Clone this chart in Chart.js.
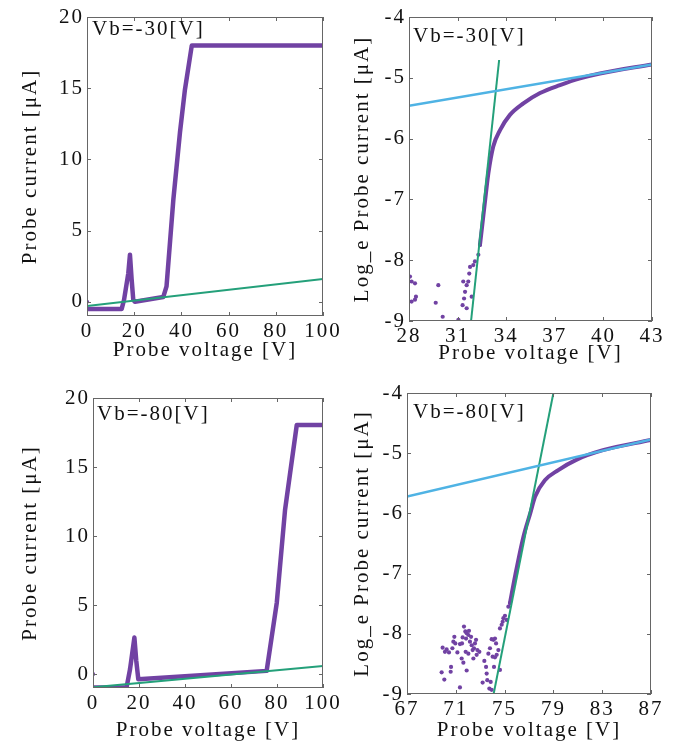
<!DOCTYPE html>
<html>
<head>
<meta charset="utf-8">
<script src="https://cdn.jsdelivr.net/npm/chart.js@4.4.1/dist/chart.umd.min.js"></script>
<style>
  body { margin: 0; background: #fff; }
  canvas { position: absolute; left: 0; top: 0; }
</style>
</head>
<body>
<canvas id="p1" width="675" height="742"></canvas>
<canvas id="p2" width="675" height="742"></canvas>
<canvas id="p3" width="675" height="742"></canvas>
<canvas id="p4" width="675" height="742"></canvas>
<script>
/* global Chart */

// ---- data ----

// Vb = -30 V, probe current [uA]
const iv30V = [0, 14.7, 15.7, 17.5, 18.2, 18.9, 19.6, 20.3, 32.3, 33.7, 36.6, 39.4, 41.5, 44.4, 100];
const iv30I = [-0.5, -0.5, 0.14, 2.0, 3.3, 1.6, 0.14, 0.0, 0.33, 1.08, 7.2, 11.9, 14.9, 18.0, 18.0];
const fit30V = [0, 100];
const fit30I = [-0.3, 1.6];

// Vb = -80 V, probe current [uA]
const iv80V = [0, 14.6, 16.1, 18.0, 18.8, 19.7, 75.5, 79.9, 83.5, 85.7, 88.6, 100];
const iv80I = [-0.96, -0.96, 0.36, 2.65, 1.0, -0.36, 0.24, 5.17, 11.9, 14.56, 18.05, 18.05];
const fit80V = [0, 100];
const fit80I = [-0.95, 0.6];

// stray point at 0 V
const strayV = [0];
const strayI = [0];

// Vb = -30 V, log_e current
const log30DotV = [28.06, 28.16, 28.37, 28.43, 28.37, 27.98, 28.16, 29.81, 29.65, 30.08, 31.05, 31.35, 31.46,
  31.56, 31.66, 31.72, 31.77, 31.97, 32.07, 32.28, 32.38, 31.31, 31.40, 31.56, 31.87];
const log30DotI = [-8.27, -8.35, -8.38, -8.60, -8.65, -8.68, -8.68, -8.41, -8.70, -8.93, -8.98, -8.35, -8.52,
  -8.41, -8.35, -8.22, -8.11, -8.08, -8.02, -7.91, -7.75, -8.74, -8.63, -8.79, -8.60];
const log30V = [32.38, 32.49, 32.75, 32.9, 33.2, 33.62, 34.23, 35.06, 36.09, 37.32, 38.56, 39.79, 43];
const log30I = [-7.75, -7.5, -6.9, -6.57, -6.13, -5.86, -5.61, -5.42, -5.25, -5.12, -5.01, -4.93, -4.78];
const steep30V = [31.83, 33.85];
const steep30I = [-9, -4];
const flat30V = [28, 43];
const flat30I = [-5.46, -4.78];

// Vb = -80 V, log_e current
const log80DotV = [69.84, 70.06, 69.92, 70.11, 70.25, 70.44, 70.61, 70.58, 70.72, 70.80, 70.88, 70.96, 71.13,
  71.34, 71.51, 71.56, 71.67, 71.78, 71.84, 71.89, 72.03, 72.08, 72.16, 72.30, 72.25, 72.38, 72.49, 72.57,
  72.66, 72.77, 72.71, 72.93, 72.44, 71.48, 71.62, 71.89, 71.34, 72.03, 71.81, 73.20, 73.34, 73.48, 73.53,
  73.58, 73.67, 73.80, 73.94, 74.08, 74.21, 74.30, 74.02, 74.21, 74.35, 73.86, 73.75, 73.94, 74.62, 74.76,
  74.84, 74.90, 75.03, 75.17, 75.31, 75.44, 74.49, 74.62, 74.13];
const log80DotI = [-8.64, -8.76, -8.23, -8.30, -8.26, -8.31, -8.55, -8.63, -8.24, -8.13, -8.05, -8.16, -8.31,
  -8.17, -8.16, -8.06, -7.88, -7.96, -8.08, -7.99, -8.02, -7.95, -8.13, -8.19, -8.05, -8.27, -8.24, -8.16,
  -8.10, -8.27, -8.35, -8.30, -8.41, -8.41, -8.48, -8.61, -8.89, -8.33, -8.30, -8.81, -8.45, -8.55, -8.66,
  -8.77, -8.33, -8.24, -8.09, -8.10, -8.08, -8.16, -8.38, -8.39, -8.35, -8.80, -8.91, -8.93, -7.91, -7.85,
  -7.80, -7.74, -7.70, -7.77, -7.55, -7.49, -8.27, -8.60, -8.55];
const log80V = [75.44, 75.85, 76.54, 77.1, 77.5, 78.3, 79.4, 80.87, 83.06, 87];
const log80I = [-7.49, -7.05, -6.39, -6.0, -5.72, -5.45, -5.28, -5.11, -4.95, -4.78];
const steep80V = [74.1, 79.0];
const steep80I = [-9, -4];
const flat80V = [67, 87];
const flat80I = [-5.72, -4.77];

// tick labels
const ivTicksX = [0, 20, 40, 60, 80, 100];
const ivTicksY = [0, 5, 10, 15, 20];
const log30TicksX = [28, 31, 34, 37, 40, 43];
const log80TicksX = [67, 71, 75, 79, 83, 87];
const logTicksY = [-9, -8, -7, -6, -5, -4];

// ---- drawing ----

const FONT = '"Liberation Serif", "Times New Roman", serif';
const SIZE = 21;
const SPACING = '2px'; // the source text is wide, Times-like
const PURPLE = '#7142a3';
const GREEN = '#24a07a';
const BLUE = '#4fb3e4';
const INK = '#111';
const W = 675, H = 742;

const pts = (xs, ys) => xs.map((x, i) => ({ x, y: ys[i] }));

const fitLine = (xs, ys, color, w) => ({
  data: pts(xs, ys), showLine: true, pointRadius: 0, borderColor: color, borderWidth: w, clip: 0,
});
const curve = (xs, ys, w, smooth) => ({
  data: pts(xs, ys), showLine: true, pointRadius: 0, borderColor: PURPLE, borderWidth: w,
  cubicInterpolationMode: smooth ? 'monotone' : 'default',
  borderJoinStyle: 'round', borderCapStyle: 'round', clip: 0,
});
const dots = (xs, ys) => ({
  data: pts(xs, ys), showLine: false, pointRadius: 2.1, pointBorderWidth: 0,
  backgroundColor: PURPLE, clip: 0,
});

// box, inward ticks and the Vb label
const frame = {
  id: 'frame',
  beforeUpdate(chart) { chart.ctx.letterSpacing = SPACING; },
  beforeDraw(chart) { chart.ctx.letterSpacing = SPACING; },
  afterDatasetsDraw(chart, args, o) {
    const { ctx, chartArea: a, scales: { x, y } } = chart;
    ctx.save();
    ctx.font = SIZE + 'px ' + FONT;
    const tw = ctx.measureText(o.text).width;
    ctx.fillStyle = '#fff';
    ctx.fillRect(a.left + 1, a.top + 1, tw + o.dx + 1, o.boxB - 1);
    ctx.fillStyle = INK;
    ctx.textBaseline = 'alphabetic';
    ctx.fillText(o.text, a.left + o.dx, a.top + o.dy);

    ctx.strokeStyle = '#666';
    ctx.lineWidth = 1;
    ctx.strokeRect(a.left + 0.5, a.top + 0.5, a.right - a.left - 1, a.bottom - a.top - 1);
    ctx.beginPath();
    x.ticks.forEach((t) => {
      const px = Math.round(x.getPixelForValue(t.value)) + 0.5;
      ctx.moveTo(px, a.bottom); ctx.lineTo(px, a.bottom - 4);
      ctx.moveTo(px, a.top); ctx.lineTo(px, a.top + 4);
    });
    y.ticks.forEach((t) => {
      const py = Math.round(y.getPixelForValue(t.value)) + 0.5;
      ctx.moveTo(a.left, py); ctx.lineTo(a.left + 4, py);
      ctx.moveTo(a.right, py); ctx.lineTo(a.right - 4, py);
    });
    ctx.stroke();
    ctx.restore();
  },
};

function panel(id, p) {
  const lh = SIZE * 1.2;
  const yl = p.yTitleX - lh / 2;
  const xb = p.xTitleY + lh / 2;
  const font = { family: FONT, size: SIZE };
  new Chart(document.getElementById(id), {
    type: 'scatter',
    data: { datasets: p.datasets },
    options: {
      responsive: false,
      animation: false,
      devicePixelRatio: 1,
      layout: { padding: { left: yl, top: p.area.t, right: W - p.area.r, bottom: H - xb } },
      plugins: {
        legend: { display: false },
        tooltip: { enabled: false },
        frame: { text: p.label, dx: p.labelDx, dy: p.labelDy, boxB: p.boxB },
      },
      scales: {
        x: {
          type: 'linear', min: p.xMin, max: p.xMax,
          grid: { display: false, drawTicks: false },
          border: { display: false },
          ticks: { color: INK, font, padding: 3, maxRotation: 0, autoSkip: false, callback: (v) => String(v) },
          title: { display: true, text: 'Probe voltage [V]', color: INK, font, padding: 0 },
          afterBuildTicks: (s) => { s.ticks = p.xTicks.map((v) => ({ value: v })); },
          afterFit: (s) => { s.height = xb - p.area.b; },
        },
        y: {
          type: 'linear', min: p.yMin, max: p.yMax,
          grid: { display: false, drawTicks: false },
          border: { display: false },
          ticks: { color: INK, font, padding: 3, autoSkip: false, callback: (v) => String(v) },
          title: { display: true, text: p.yTitle, color: INK, font, padding: 0 },
          afterBuildTicks: (s) => { s.ticks = p.yTicks.map((v) => ({ value: v })); },
          afterFit: (s) => { s.width = p.area.l - yl; },
        },
      },
    },
    plugins: [frame],
  });
}

panel('p1', {
  area: { l: 87, r: 323, t: 17, b: 316 },
  yTitleX: 30, xTitleY: 350,
  xMin: 0, xMax: 100, yMin: -1, yMax: 20,
  xTicks: ivTicksX, yTicks: ivTicksY,
  yTitle: 'Probe current [μA]',
  label: 'Vb=-30[V]', labelDx: 5, labelDy: 18, boxB: 26,
  datasets: [
    fitLine(fit30V, fit30I, GREEN, 2),
    curve(iv30V, iv30I, 4.5, false),
    dots(strayV, strayI),
  ],
});

panel('p2', {
  area: { l: 409, r: 652, t: 17, b: 321 },
  yTitleX: 362, xTitleY: 353,
  xMin: 28, xMax: 43, yMin: -9, yMax: -4,
  xTicks: log30TicksX, yTicks: logTicksY,
  yTitle: 'Log_e Probe current [μA]',
  label: 'Vb=-30[V]', labelDx: 4, labelDy: 24.5, boxB: 43,
  datasets: [
    fitLine(flat30V, flat30I, BLUE, 2.5),
    fitLine(steep30V, steep30I, GREEN, 2),
    curve(log30V, log30I, 4, true),
    dots(log30DotV, log30DotI),
  ],
});

panel('p3', {
  area: { l: 93, r: 323, t: 398, b: 688 },
  yTitleX: 30, xTitleY: 730,
  xMin: 0, xMax: 100, yMin: -1, yMax: 20,
  xTicks: ivTicksX, yTicks: ivTicksY,
  yTitle: 'Probe current [μA]',
  label: 'Vb=-80[V]', labelDx: 4, labelDy: 22, boxB: 30,
  datasets: [
    fitLine(fit80V, fit80I, GREEN, 2),
    curve(iv80V, iv80I, 4.5, false),
    dots(strayV, strayI),
  ],
});

panel('p4', {
  area: { l: 407, r: 651, t: 393, b: 694 },
  yTitleX: 362, xTitleY: 730,
  xMin: 67, xMax: 87, yMin: -9, yMax: -4,
  xTicks: log80TicksX, yTicks: logTicksY,
  yTitle: 'Log_e Probe current [μA]',
  label: 'Vb=-80[V]', labelDx: 6, labelDy: 25, boxB: 32,
  datasets: [
    fitLine(flat80V, flat80I, BLUE, 2.5),
    fitLine(steep80V, steep80I, GREEN, 2),
    curve(log80V, log80I, 4, true),
    dots(log80DotV, log80DotI),
  ],
});
</script>
</body>
</html>
